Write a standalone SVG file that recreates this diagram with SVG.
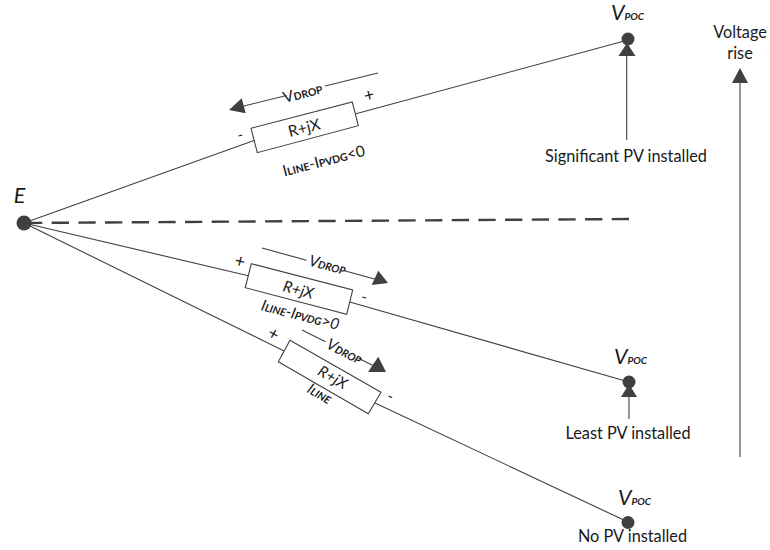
<svg xmlns="http://www.w3.org/2000/svg" width="770" height="550" viewBox="0 0 770 550">
<style>
text{font-family:Lato,"Open Sans","Liberation Sans",sans-serif;fill:#1a1a1a;text-anchor:middle}
.lbl{font-size:15.5px}
.cap{font-size:16.3px}
.sm{font-size:10.5px;font-weight:700}
.poc{font-size:10px;font-weight:700;font-style:italic}
.v{font-size:21.5px;font-style:italic}
.line{stroke:#404040;stroke-width:1.1;fill:none}
.arr{stroke:#404040;stroke-width:1.1;fill:none}
.head{fill:#404040;stroke:none}
.dot{fill:#404040}
.res{fill:#fff;stroke:#404040;stroke-width:1.1}
.gap{fill:#fff;stroke:none}
</style>
<g id="connectors">
<path class="line" d="M24 223L254 140.500M355 114L628 40"/>
<path class="line" d="M24 223L248.300 275.700M349.700 302L629 382"/>
<path class="line" d="M24 223L284 351M375 403L628 522"/>
<path d="M25 223L629 219" stroke="#404040" stroke-width="2.4" fill="none" stroke-dasharray="17.300 9.370"/>
<path class="arr" d="M378 73L240 107"/><polygon class="head" points="229,110 241.700,98.300 245.700,113.300"/>
<path class="arr" d="M262 248L378 280"/><polygon class="head" points="388,283 378.300,270.700 371.700,285"/>
<path class="arr" d="M302 330L376 367"/><polygon class="head" points="386,372 378.300,356.700 368,372"/>
<path class="arr" d="M626.700 140V55"/><polygon class="head" points="627,43 635.500,56 618.500,56"/>
<path class="arr" d="M629 419V396"/><polygon class="head" points="629,384 637,397 621,397"/>
<path class="arr" d="M740 457V82"/><polygon class="head" points="740,68 748,83 732,83"/>
</g>
<g id="node-E"><circle class="dot" cx="24" cy="223" r="7.500"/><text class="v" x="19.500" y="203">E</text></g>
<g id="node-vpoc-top"><circle class="dot" cx="628" cy="39" r="6.500"/><text class="v" x="627.500" y="20">V<tspan class="poc">POC</tspan></text></g>
<g id="node-vpoc-mid"><circle class="dot" cx="629" cy="382" r="6.500"/><text class="v" x="630.500" y="364">V<tspan class="poc">POC</tspan></text></g>
<g id="node-vpoc-low"><circle class="dot" cx="628" cy="522.500" r="6.500"/><text class="v" x="634.500" y="505">V<tspan class="poc">POC</tspan></text></g>
<g id="res-top">
<polygon class="res" points="251,128.300 352.300,102 358.300,125.700 257.300,152.700"/>
<text class="lbl" transform="translate(305.500,133) rotate(-14.500)">R+jX</text>
<text class="lbl" transform="translate(241.500,140) rotate(-14.500)">-</text>
<text class="lbl" transform="translate(370.500,101) rotate(-14.500)" style="font-size:18px">+</text>
<text class="lbl" transform="translate(325,166) rotate(-14.500)">I<tspan class="sm">LINE</tspan>-I<tspan class="sm">PVDG</tspan>&lt;0</text>
<polygon class="gap" points="284,88 322,78 326,90 288,100"/>
<text class="lbl" transform="translate(304,98) rotate(-14.500)">V<tspan class="sm">DROP</tspan></text>
</g>
<g id="res-mid">
<polygon class="res" points="251.300,263.700 352.700,290 346.700,314.300 245.300,287.700"/>
<text class="lbl" font-style="italic" transform="translate(297,295) rotate(14.500)">R+jX</text>
<text class="lbl" transform="translate(238.500,267) rotate(14.500)" style="font-size:18px">+</text>
<text class="lbl" transform="translate(363,302) rotate(14.500)">-</text>
<text class="lbl" font-style="italic" transform="translate(299,320) rotate(14.500)">I<tspan class="sm">LINE</tspan>-I<tspan class="sm">PVDG</tspan>&gt;0</text>
<polygon class="gap" points="308,254 346,264 343,276 305,266"/>
<text class="lbl" font-style="italic" transform="translate(326,270) rotate(14.500)">V<tspan class="sm">DROP</tspan></text>
</g>
<g id="res-low">
<polygon class="res" points="290,340.300 381,392.300 368.300,413.700 278.300,361.700"/>
<text class="lbl" font-style="italic" transform="translate(330,382) rotate(29.700)">R+jX</text>
<text class="lbl" transform="translate(270.500,339) rotate(29.700)" style="font-size:18px">+</text>
<text class="lbl" transform="translate(388,401) rotate(29.700)">-</text>
<text class="lbl" font-style="italic" transform="translate(317,398) rotate(29.700)">I<tspan class="sm">LINE</tspan></text>
<polygon class="gap" points="327,339 360,356 354,366 321,349"/>
<text class="lbl" font-style="italic" transform="translate(342,356) rotate(27)">V<tspan class="sm">DROP</tspan></text>
</g>
<g id="labels">
<text class="cap" x="626" y="162">Significant PV installed</text>
<text class="cap" x="628" y="439">Least PV installed</text>
<text class="cap" x="632.500" y="541.500">No PV installed</text>
<text class="cap" x="740" y="38">Voltage</text>
<text class="cap" x="740" y="59">rise</text>
</g>
</svg>
